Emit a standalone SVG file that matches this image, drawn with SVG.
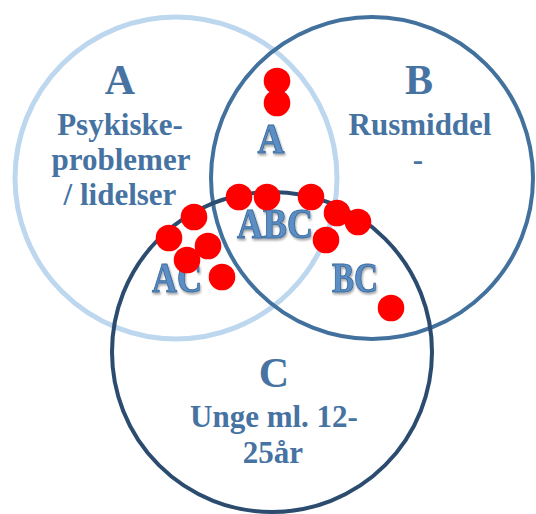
<svg xmlns="http://www.w3.org/2000/svg" width="536" height="514" viewBox="0 0 536 514">
<style>
.circ{fill:none}
.lab{font-family:"Liberation Serif","Times New Roman",serif;font-weight:bold;fill:#4673A2;text-anchor:middle}
.big{font-size:42px}
.body{font-size:31px}
.wa{font-family:"Liberation Serif","Times New Roman",serif;font-weight:bold;font-size:42px;fill:#5C8EC6;stroke:#3D6C9D;stroke-width:1;text-anchor:middle;filter:url(#sh)}
.dot{fill:#FF0000}
</style>
<defs>
<filter id="sh" x="-20%" y="-20%" width="140%" height="150%">
<feDropShadow dx="1" dy="2" stdDeviation="1" flood-color="#000" flood-opacity="0.35"/>
</filter>
</defs>
<rect width="536" height="514" fill="#fff"/>
<g id="circleA"><circle class="circ" cx="176" cy="178" r="161" stroke="#BDD7EE" stroke-width="5"/></g>
<g id="circleB"><circle class="circ" cx="372" cy="178" r="161" stroke="#41719C" stroke-width="4"/></g>
<g id="circleC"><circle class="circ" cx="272" cy="352" r="160" stroke="#2B4C6E" stroke-width="4"/></g>
<g id="labelA">
<text class="lab big" x="120" y="94">A</text>
<text class="lab body" x="120" y="135">Psykiske-</text>
<text class="lab body" x="121" y="170">problemer</text>
<text class="lab body" x="120" y="205">/ lidelser</text>
</g>
<g id="labelB">
<text class="lab big" x="419" y="94">B</text>
<text class="lab body" x="420" y="135">Rusmiddel</text>
<text class="lab body" x="418" y="170">-</text>
</g>
<g id="labelC">
<text class="lab big" x="274" y="387">C</text>
<text class="lab body" x="274" y="427">Unge ml. 12-</text>
<text class="lab body" x="273" y="463">25år</text>
</g>
<g id="intersections">
<text class="wa" x="271" y="153" textLength="27" lengthAdjust="spacingAndGlyphs">A</text>
<text class="wa" x="275" y="238" textLength="76" lengthAdjust="spacingAndGlyphs">ABC</text>
<text class="wa" x="177" y="292" textLength="50" lengthAdjust="spacingAndGlyphs">AC</text>
<text class="wa" x="355" y="292" textLength="46" lengthAdjust="spacingAndGlyphs">BC</text>
</g>
<g id="dots">
<circle class="dot" cx="277" cy="81" r="13.3"/>
<circle class="dot" cx="277" cy="103" r="13.3"/>
<circle class="dot" cx="239" cy="197" r="13.3"/>
<circle class="dot" cx="267" cy="197" r="13.3"/>
<circle class="dot" cx="311" cy="197" r="13.3"/>
<circle class="dot" cx="337" cy="213" r="13.3"/>
<circle class="dot" cx="358" cy="222" r="13.3"/>
<circle class="dot" cx="326" cy="240" r="13.3"/>
<circle class="dot" cx="194" cy="217" r="13.3"/>
<circle class="dot" cx="169" cy="238" r="13.3"/>
<circle class="dot" cx="208" cy="246" r="13.3"/>
<circle class="dot" cx="187" cy="260" r="13.3"/>
<circle class="dot" cx="222" cy="277" r="13.3"/>
<circle class="dot" cx="391" cy="308" r="13.3"/>
</g>
</svg>
